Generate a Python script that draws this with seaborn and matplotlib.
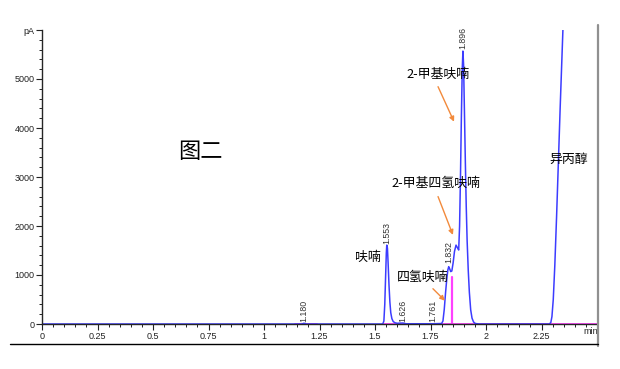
import matplotlib
matplotlib.use("Agg")
import matplotlib.pyplot as plt
import seaborn as sns
import pandas as pd
from matplotlib.lines import Line2D

# ---- data ----
trace_min = [0.0, 1.170, 1.180, 1.190, 1.535, 1.540, 1.544, 1.548, 1.551, 1.553,
             1.556, 1.559, 1.563, 1.567, 1.571, 1.576, 1.582, 1.590, 1.600, 1.626,
             1.640, 1.760, 1.800, 1.806, 1.812, 1.818, 1.823, 1.828, 1.832, 1.836,
             1.841, 1.846, 1.852, 1.858, 1.865, 1.871, 1.877, 1.881, 1.885, 1.889,
             1.893, 1.896, 1.899, 1.903, 1.907, 1.911, 1.915, 1.920, 1.925, 1.931,
             1.937, 1.944, 1.952, 1.970, 2.285, 2.292, 2.297, 2.303, 2.310, 2.318,
             2.326, 2.334, 2.341, 2.348, 2.360]
trace_pA = [0, 0, 15, 0, 0, 60, 400, 1000, 1450, 1610,
            1550, 1250, 800, 450, 230, 110, 50, 25, 15, 20,
            5, 5, 10, 60, 300, 650, 900, 1100, 1170, 1130,
            1070, 1080, 1250, 1480, 1610, 1560, 1510, 2000, 3000, 4200,
            5200, 5570, 5300, 4300, 3300, 2400, 1700, 1100, 650, 290,
            120, 40, 10, 0, 0, 30, 150, 500, 1200, 2200,
            3300, 4400, 5300, 6200, 8000]

peak_rt = [1.180, 1.553, 1.626, 1.761, 1.832, 1.896]
peak_label = ["1.180", "1.553", "1.626", "1.761", "1.832", "1.896"]
peak_label_y = [40, 1640, 40, 40, 1240, 5620]

cut_rt = 1.845
cut_height = 965
base_segments = [(1.14, 1.24), (1.54, 2.5)]

names = ["呋喃", "四氢呋喃", "2-甲基四氢呋喃", "2-甲基呋喃", "异丙醇"]
name_x = [1.468, 1.716, 1.775, 1.784, 2.374]
name_y = [1353, 945, 2863, 5088, 3353]

arrow_from = [(1.761, 720), (1.784, 2600), (1.784, 4843)]
arrow_to = [(1.815, 476), (1.851, 1818), (1.856, 4129)]

x_ticks = [0, 0.25, 0.5, 0.75, 1, 1.25, 1.5, 1.75, 2, 2.25]
x_tick_labels = ["0", "0.25", "0.5", "0.75", "1", "1.25", "1.5", "1.75", "2", "2.25"]
y_ticks = [0, 1000, 2000, 3000, 4000, 5000, 6000]
y_tick_labels = ["0", "1000", "2000", "3000", "4000", "5000", "pA"]

# ---- style ----
sns.set_style("ticks")
plt.rcParams['font.family'] = ['Noto Sans CJK SC', 'DejaVu Sans']

fig = plt.figure(figsize=(6.2, 3.69), dpi=100)
ax = fig.add_axes([42 / 620, 45 / 369, 555 / 620, 294 / 369])

# magenta integration baselines & cut line
for a, b in base_segments:
    ax.plot([a, b], [0, 0], color="#ff40ff", lw=1.3, zorder=1)
ax.plot([cut_rt, cut_rt], [0, cut_height], color="#ff40ff", lw=1.6, zorder=1)

df = pd.DataFrame({"min": trace_min, "pA": trace_pA})
sns.lineplot(data=df, x="min", y="pA", ax=ax, color="#3c3cff", lw=1.1,
             sort=False, estimator=None, zorder=2)

ax.set_xlim(0, 2.5)
ax.set_ylim(0, 6000)
ax.set_xlabel("")
ax.set_ylabel("")

ax.set_xticks(x_ticks)
ax.set_xticklabels(x_tick_labels, family="Liberation Sans")
ax.set_xticks([i * 0.05 for i in range(50)], minor=True)
ax.set_yticks(y_ticks)
ax.set_yticklabels(y_tick_labels, family="Liberation Sans")
ax.set_yticks([i * 200 for i in range(30)], minor=True)
ax.tick_params(axis="both", which="major", labelsize=6.5, length=4, width=0.8,
               colors="#222222", pad=1.5)
ax.tick_params(axis="both", which="minor", length=2, width=0.7, colors="#222222")

for s in ["top", "right"]:
    ax.spines[s].set_visible(False)
ax.spines["left"].set_linewidth(1.0)
ax.spines["bottom"].set_linewidth(1.0)

ax.text(2.47, -60, "min", fontsize=6.5, family="Liberation Sans",
        ha="center", va="top", color="#222222")

# peak retention-time labels
for rt, lab, yy in zip(peak_rt, peak_label, peak_label_y):
    ax.text(rt, yy, lab, rotation=90, fontsize=6.3, family="Liberation Sans",
            ha="center", va="bottom", color="#333333")

# compound names
for n, xx, yy in zip(names, name_x, name_y):
    ax.text(xx, yy, n, fontsize=9.3, ha="center", va="center", color="black")
ax.text(0.712, 3516, "图二", fontsize=16, ha="center", va="center", color="black")

# orange arrows
for (x0, y0), (x1, y1) in zip(arrow_from, arrow_to):
    ax.annotate("", xy=(x1, y1), xytext=(x0, y0),
                arrowprops=dict(arrowstyle="-|>", color="#f28a3c", lw=1.0,
                                mutation_scale=7, shrinkA=0, shrinkB=0))

# right gray frame line and bottom black rule
fig.add_artist(Line2D([598 / 620, 598 / 620], [1 - 25 / 369, 1 - 346 / 369],
                      color="#909090", lw=1.6))
fig.add_artist(Line2D([10 / 620, 598 / 620], [1 - 344 / 369, 1 - 344 / 369],
                      color="black", lw=1.0))

fig.savefig("out.png", dpi=100)
